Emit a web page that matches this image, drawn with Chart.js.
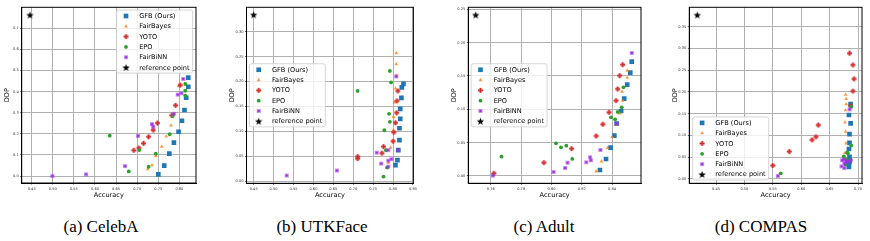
<!DOCTYPE html>
<html>
<head>
<meta charset="utf-8">
<script src="https://cdn.jsdelivr.net/npm/chart.js@4/dist/chart.umd.min.js"></script>
<style>
  body { margin: 0; background: #fff; width: 870px; height: 241px; position: relative; overflow: hidden; }
  .cap { position: absolute; top: 217px; font-family: "Liberation Serif", serif; font-size: 17px; color: #000;
         transform: translateX(-50%); white-space: nowrap; }
</style>
</head>
<body>
<script>
// legend labels, same in every panel
var methodNames = ['GFB (Ours)', 'FairBayes', 'YOTO', 'EPO', 'FairBiNN', 'reference point'];

// [accuracy, DDP] pairs
// (a) CelebA
var celebaGFB = [[0.821,0.466],[0.821,0.423],[0.816,0.371],[0.812,0.313],[0.806,0.262],[0.798,0.210],[0.787,0.158],[0.776,0.106],[0.764,0.049],[0.750,0.008]];
var celebaBayes = [[0.798,0.427],[0.780,0.240],[0.769,0.188],[0.758,0.139],[0.744,0.095],[0.735,0.051],[0.725,0.033]];
var celebaYOTO = [[0.802,0.431],[0.791,0.335],[0.782,0.288],[0.748,0.251],[0.738,0.218],[0.727,0.186],[0.715,0.155],[0.704,0.133],[0.692,0.122]];
var celebaEPO = [[0.814,0.436],[0.814,0.404],[0.814,0.381],[0.784,0.284],[0.777,0.198],[0.635,0.191],[0.744,0.106],[0.705,0.123],[0.727,0.044],[0.680,0.022]];
var celebaBiNN = [[0.809,0.460],[0.805,0.392],[0.796,0.386],[0.787,0.295],[0.735,0.246],[0.738,0.234],[0.702,0.190],[0.671,0.047],[0.579,0.008],[0.499,0.000]];
var celebaRef = [[0.446,0.763]];

// (b) UTKFace
var utkGFB = [[0.826,0.195],[0.822,0.188],[0.821,0.167],[0.818,0.145],[0.818,0.125],[0.816,0.106],[0.816,0.082],[0.813,0.062],[0.811,0.042],[0.806,0.032]];
var utkBayes = [[0.808,0.257],[0.808,0.235],[0.808,0.212],[0.806,0.186],[0.804,0.158],[0.801,0.129],[0.799,0.100],[0.794,0.067],[0.788,0.037],[0.785,0.027]];
var utkYOTO = [[0.812,0.181],[0.810,0.161],[0.809,0.137],[0.806,0.117],[0.802,0.098],[0.800,0.080],[0.776,0.069],[0.772,0.056],[0.711,0.049],[0.711,0.045]];
var utkEPO = [[0.792,0.221],[0.795,0.198],[0.711,0.181],[0.790,0.135],[0.792,0.119],[0.778,0.102],[0.782,0.062],[0.785,0.027],[0.776,0.009]];
var utkBiNN = [[0.808,0.210],[0.813,0.062],[0.788,0.062],[0.759,0.057],[0.788,0.041],[0.796,0.044],[0.770,0.035],[0.788,0.029],[0.659,0.021],[0.533,0.011]];
var utkRef = [[0.450,0.334]];

// (c) Adult
var adultGFB = [[0.853,0.1715],[0.852,0.155],[0.850,0.137],[0.848,0.116],[0.846,0.0975],[0.843,0.0785],[0.8415,0.0605],[0.839,0.0425],[0.836,0.0255],[0.832,0.009]];
var adultBayes = [[0.850,0.158],[0.850,0.1475],[0.8466,0.1265],[0.847,0.113],[0.845,0.094],[0.843,0.0765],[0.840,0.0585],[0.837,0.042],[0.833,0.022],[0.8295,0.007]];
var adultYOTO = [[0.847,0.167],[0.845,0.1505],[0.8437,0.1305],[0.8426,0.113],[0.838,0.0955],[0.8339,0.0775],[0.8295,0.060],[0.8133,0.041],[0.795,0.020],[0.762,0.004]];
var adultEPO = [[0.8475,0.133],[0.8464,0.103],[0.8437,0.096],[0.8393,0.088],[0.842,0.085],[0.803,0.049],[0.8098,0.0455],[0.8063,0.043],[0.8137,0.0255],[0.767,0.029]];
var adultBiNN = [[0.853,0.1845],[0.843,0.0785],[0.8323,0.039],[0.8255,0.028],[0.826,0.0235],[0.823,0.0205],[0.8106,0.020],[0.809,0.012],[0.8014,0.006],[0.7613,0.0005]];
var adultRef = [[0.750,0.2415]];

// (d) COMPAS
var compasGFB = [[0.687,0.172],[0.684,0.147],[0.687,0.128],[0.685,0.103],[0.685,0.083],[0.684,0.069],[0.685,0.051],[0.685,0.040],[0.684,0.034],[0.684,0.028]];
var compasBayes = [[0.678,0.194],[0.679,0.184],[0.679,0.172],[0.678,0.158],[0.677,0.130],[0.678,0.109],[0.679,0.082],[0.677,0.060],[0.675,0.046],[0.678,0.034]];
var compasYOTO = [[0.685,0.289],[0.691,0.262],[0.693,0.230],[0.691,0.202],[0.687,0.168],[0.630,0.124],[0.626,0.097],[0.619,0.090],[0.579,0.063],[0.550,0.031]];
var compasEPO = [[0.688,0.166],[0.688,0.077],[0.681,0.061],[0.682,0.059],[0.675,0.052],[0.680,0.045],[0.687,0.044],[0.678,0.033],[0.564,0.013]];
var compasBiNN = [[0.685,0.160],[0.675,0.045],[0.672,0.043],[0.679,0.039],[0.687,0.043],[0.676,0.036],[0.671,0.029],[0.676,0.025],[0.682,0.040],[0.559,0.007]];
var compasRef = [[0.417,0.377]];

// tick values
var celebaAccTicks = [0.45, 0.50, 0.55, 0.60, 0.65, 0.70, 0.75, 0.80];
var celebaDdpTicks = [0.0, 0.1, 0.2, 0.3, 0.4, 0.5, 0.6, 0.7];
var utkAccTicks = [0.45, 0.50, 0.55, 0.60, 0.65, 0.70, 0.75, 0.80, 0.85];
var utkDdpTicks = [0.00, 0.05, 0.10, 0.15, 0.20, 0.25, 0.30];
var adultAccTicks = [0.76, 0.78, 0.80, 0.82, 0.84];
var adultDdpTicks = [0.00, 0.05, 0.10, 0.15, 0.20, 0.25];
var compasAccTicks = [0.45, 0.50, 0.55, 0.60, 0.65, 0.70];
var compasDdpTicks = [0.00, 0.05, 0.10, 0.15, 0.20, 0.25, 0.30, 0.35];

var BLUE = '#1f77b4', ORANGE = 'rgba(255,127,14,0.8)', RED = '#d62728', GREEN = '#2ca02c', PURPLE = '#9b30e6';

// small canvases for the markers chart.js has no filled version of
function markerCanvas(size, draw) {
  var c = document.createElement('canvas');
  c.width = c.height = size;
  draw(c.getContext('2d'), size / 2);
  return c;
}
var starImg = markerCanvas(9, function (g, m) {
  g.fillStyle = '#000';
  g.beginPath();
  for (var k = 0; k < 10; k++) {
    var r = k % 2 ? 1.6 : 3.9;
    var a = -Math.PI / 2 + k * Math.PI / 5;
    g.lineTo(m + r * Math.cos(a), m + 0.4 + r * Math.sin(a));
  }
  g.closePath();
  g.fill();
});
var plusImg = markerCanvas(7, function (g, m) {
  g.fillStyle = RED;
  g.fillRect(m - 2.5, m - 0.95, 5, 1.9);
  g.fillRect(m - 0.95, m - 2.5, 1.9, 5);
});
var xImg = markerCanvas(6, function (g, m) {
  g.fillStyle = PURPLE;
  g.translate(m, m);
  g.rotate(Math.PI / 4);
  g.fillRect(-2.2, -0.8, 4.4, 1.6);
  g.fillRect(-0.8, -2.2, 1.6, 4.4);
});

var styles = [
  {pointStyle: 'rect', pointRadius: 3.3, backgroundColor: BLUE},
  {pointStyle: 'triangle', pointRadius: 2.2, backgroundColor: ORANGE},
  {pointStyle: plusImg, pointRadius: 3, backgroundColor: RED},
  {pointStyle: 'circle', pointRadius: 1.9, backgroundColor: GREEN},
  {pointStyle: xImg, pointRadius: 3, backgroundColor: PURPLE},
  {pointStyle: starImg, pointRadius: 4, backgroundColor: '#000'}
];

// black box round the plot area
var frameBox = {
  id: 'frameBox',
  afterDatasetsDraw: function (chart) {
    var a = chart.chartArea, ctx = chart.ctx;
    ctx.save();
    ctx.strokeStyle = '#000';
    ctx.lineWidth = 1;
    ctx.strokeRect(a.left, a.top, a.right - a.left, a.bottom - a.top);
    ctx.restore();
  }
};

// matplotlib-like legend box inside the axes
var boxLegend = {
  id: 'boxLegend',
  afterDraw: function (chart, args, opts) {
    var ctx = chart.ctx, a = chart.chartArea, sets = chart.data.datasets;
    ctx.save();
    ctx.font = '6.6px "DejaVu Sans"';
    var tw = 0;
    sets.forEach(function (d) { tw = Math.max(tw, ctx.measureText(d.label).width); });
    var rowH = 10.3;
    var w = 22.6 + tw + 3, h = 6 + rowH * (sets.length - 1) + 5.6;
    var x, y;
    if (opts.corner === 'ur') { x = a.right - 3.4 - w; y = a.top + 2.7; }
    else if (opts.corner === 'cl') { x = a.left + 2.8; y = (a.top + a.bottom) / 2 - h / 2; }
    else { x = a.left + 3.4; y = a.bottom - 3.3 - h; }
    ctx.beginPath();
    ctx.roundRect(x, y, w, h, 2);
    ctx.fillStyle = 'rgba(255,255,255,0.8)';
    ctx.fill();
    ctx.strokeStyle = '#cccccc';
    ctx.lineWidth = 0.8;
    ctx.stroke();
    sets.forEach(function (d, i) {
      var cy = y + 6 + i * rowH;
      ctx.fillStyle = d.backgroundColor;
      ctx.strokeStyle = d.backgroundColor;
      Chart.helpers.drawPoint(ctx, {pointStyle: d.pointStyle, radius: d.pointRadius, rotation: 0, borderWidth: 0}, x + 9.4, cy);
      ctx.fillStyle = '#000';
      ctx.textBaseline = 'middle';
      ctx.fillText(d.label, x + 22.6, cy + 0.3);
    });
    ctx.restore();
  }
};

var panels = [
  {series: [celebaGFB, celebaBayes, celebaYOTO, celebaEPO, celebaBiNN, celebaRef],
   frame: {l: 21.7, r: 196.7, t: 7.3, b: 183}, x: [0.4264, 0.8393], y: [-0.033, 0.7995],
   xTicks: celebaAccTicks, yTicks: celebaDdpTicks, yDec: 1, corner: 'ur', caption: '(a) CelebA', capX: 101},
  {series: [utkGFB, utkBayes, utkYOTO, utkEPO, utkBiNN, utkRef],
   frame: {l: 246.5, r: 416, t: 7.3, b: 183.3}, x: [0.432, 0.851], y: [-0.0046, 0.349],
   xTicks: utkAccTicks, yTicks: utkDdpTicks, yDec: 2, corner: 'cl', caption: '(b) UTKFace', capX: 322},
  {series: [adultGFB, adultBayes, adultYOTO, adultEPO, adultBiNN, adultRef],
   frame: {l: 468.3, r: 641.7, t: 7.3, b: 183.3}, x: [0.7451, 0.8591], y: [-0.011, 0.253],
   xTicks: adultAccTicks, yTicks: adultDdpTicks, yDec: 2, corner: 'cl', caption: '(c) Adult', capX: 544},
  {series: [compasGFB, compasBayes, compasYOTO, compasEPO, compasBiNN, compasRef],
   frame: {l: 689.3, r: 862.3, t: 7.3, b: 183.3}, x: [0.403, 0.707], y: [-0.0099, 0.3946],
   xTicks: compasAccTicks, yTicks: compasDdpTicks, yDec: 2, corner: 'll', caption: '(d) COMPAS', capX: 761}
];

var CANVAS_H = 200;

panels.forEach(function (p) {
  var cl = Math.floor(p.frame.l) - 24;
  var yw = p.frame.l - cl;
  var cw = Math.ceil(p.frame.r) + 3 - cl;
  var padR = cw - (p.frame.r - cl);

  var cv = document.createElement('canvas');
  cv.width = cw; cv.height = CANVAS_H;
  cv.style.cssText = 'position:absolute;top:0;left:' + cl + 'px;width:' + cw + 'px;height:' + CANVAS_H + 'px';
  document.body.appendChild(cv);

  var datasets = p.series.map(function (pts, i) {
    var s = styles[i];
    return {
      label: methodNames[i],
      data: pts.map(function (q) { return {x: q[0], y: q[1]}; }),
      pointStyle: s.pointStyle,
      pointRadius: s.pointRadius,
      backgroundColor: s.backgroundColor,
      borderColor: s.backgroundColor,
      borderWidth: 0,
      order: 6 - i
    };
  });

  var tickFont = {family: 'DejaVu Sans', size: 3.6};
  var titleFont = {family: 'DejaVu Sans', size: 6.6};

  new Chart(cv.getContext('2d'), {
    type: 'scatter',
    data: {datasets: datasets},
    options: {
      responsive: false,
      animation: false,
      events: [],
      layout: {padding: {top: p.frame.t, right: padR, left: 0, bottom: 0}},
      plugins: {legend: {display: false}, tooltip: {enabled: false}, boxLegend: {corner: p.corner}},
      scales: {
        x: {
          type: 'linear', min: p.x[0], max: p.x[1],
          afterBuildTicks: function (s) { s.ticks = p.xTicks.map(function (v) { return {value: v}; }); },
          afterFit: function (s) { s.height = CANVAS_H - p.frame.b; },
          ticks: {font: tickFont, color: '#333', padding: 2, maxRotation: 0, autoSkip: false,
                  callback: function (v) { return v.toFixed(2); }},
          grid: {color: '#b0b0b0', lineWidth: 1, drawTicks: true, tickLength: 1.5, tickColor: '#000', tickWidth: 0.6},
          border: {display: true, color: '#000', width: 1},
          title: {display: true, text: 'Accuracy', font: titleFont, color: '#000', padding: {top: 0, bottom: 1}}
        },
        y: {
          type: 'linear', min: p.y[0], max: p.y[1],
          afterBuildTicks: function (s) { s.ticks = p.yTicks.map(function (v) { return {value: v}; }); },
          afterFit: function (s) { s.width = yw; },
          ticks: {font: tickFont, color: '#333', padding: 1.5, autoSkip: false,
                  callback: function (v) { return v.toFixed(p.yDec); }},
          grid: {color: '#b0b0b0', lineWidth: 1, drawTicks: true, tickLength: 1.5, tickColor: '#000', tickWidth: 0.6},
          border: {display: true, color: '#000', width: 1},
          title: {display: true, text: 'DDP', font: titleFont, color: '#000', padding: {top: 6.6, bottom: 0}}
        }
      }
    },
    plugins: [frameBox, boxLegend]
  });

  var cap = document.createElement('div');
  cap.className = 'cap';
  cap.style.left = p.capX + 'px';
  cap.textContent = p.caption;
  document.body.appendChild(cap);
});
</script>
</body>
</html>
